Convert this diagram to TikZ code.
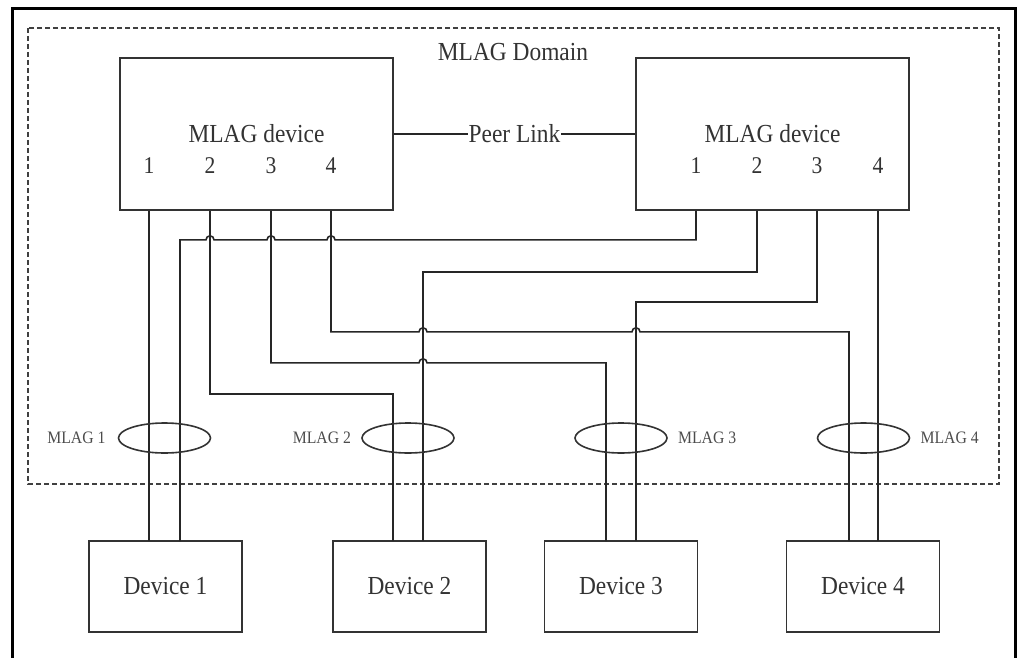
\documentclass[tikz,border=0pt]{standalone}
\usepackage{fontspec}
\setmainfont{Liberation Serif}[FakeStretch=0.9]
\usetikzlibrary{positioning,shapes.geometric}

\begin{document}
\begin{tikzpicture}[x=1pt, y=1pt,
  sw/.style={draw=black!80, line width=1.6pt, minimum width=273pt, minimum height=152pt, inner sep=0pt, text=black!80, font=\fontsize{26}{28}\selectfont},
  dev/.style={draw=black!80, line width=1.6pt, minimum width=153pt, minimum height=91pt, inner sep=0pt, text=black!80, font=\fontsize{26}{28}\selectfont},
  num/.style={inner sep=0pt, text=black!80, font=\fontsize{24}{26}\selectfont},
  lag/.style={draw=black!80, ellipse, line width=1.6pt, minimum width=92pt, minimum height=30pt, inner sep=0pt},
  ann/.style={inner sep=0pt, text=black!70, font=\fontsize{17.5}{19}\selectfont},
  wire/.style={draw=black!85, line width=1.6pt},
  dombox/.style={draw=black!75, line width=1.4pt, dash pattern=on 5pt off 3pt},
  node distance=10pt]
\useasboundingbox (0,0) rectangle (1020,-658);
\draw[line width=3pt] (12,-662) -- (12,-9) -- (1015,-9) -- (1015,-662);
\draw[dombox] (28,-28) rectangle (999,-484);
\node[text=black!80, font=\fontsize{26}{28}\selectfont] (dom) at (513,-52) {MLAG Domain};

% the two MLAG switches
\node[sw] (lsw) at (256.5,-134) {MLAG device};
\node[sw] (rsw) at (772.5,-134) {MLAG device};
\draw[wire] (lsw) -- node[fill=white, inner sep=1pt, text=black!80, font=\fontsize{26}{28}\selectfont] (peer) {Peer Link} (rsw);

\foreach \i/\x in {1/149,2/210,3/271,4/331}{
  \node[num] (ln\i) at (\x,-166) {\i};
  \coordinate (lp\i) at (ln\i |- lsw.south);
}
\foreach \i/\x in {1/696,2/757,3/817,4/878}{
  \node[num] (rn\i) at (\x,-166) {\i};
  \coordinate (rp\i) at (rn\i |- rsw.south);
}

% downstream devices
\foreach \n/\x in {1/165.5,2/409.5,3/621,4/863}
  \node[dev] (d\n) at (\x,-586.5) {Device \n};
\foreach \n/\a/\b in {1/149/180,2/393/423,3/606/636,4/849/878}{
  \coordinate (d\n-a) at (\a,-541);
  \coordinate (d\n-b) at (\b,-541);
}

% links, horizontal runs hop over the verticals
\draw[wire] (lp1) -- (d1-a);
\draw[wire] (rp1) -- ++(0,-29) -- ++(-361,0) arc (0:180:4pt) -- ++(-52,0) arc (0:180:4pt)
  -- ++(-53,0) arc (0:180:4pt) -| (d1-b);
\draw[wire] (lp2) -- ++(0,-183) -| (d2-a);
\draw[wire] (rp2) -- ++(0,-61) -| (d2-b);
\draw[wire] (lp3) -- ++(0,-152) -- ++(148,0) arc (180:0:4pt) -| (d3-a);
\draw[wire] (rp3) -- ++(0,-91) -| (d3-b);
\draw[wire] (lp4) -- ++(0,-121) -- ++(88,0) arc (180:0:4pt) -- ++(205,0) arc (180:0:4pt) -| (d4-a);
\draw[wire] (rp4) -- (d4-b);

% MLAG groups
\foreach \n/\x in {1/164.5,2/408,3/621,4/863.5}
  \node[lag] (m\n) at (\x,-438) {};
\node[ann, left=12pt of m1] (t1) {MLAG 1};
\node[ann, left=of m2] (t2) {MLAG 2};
\node[ann, right=of m3] (t3) {MLAG 3};
\node[ann, right=of m4] (t4) {MLAG 4};
\end{tikzpicture}
\end{document}
